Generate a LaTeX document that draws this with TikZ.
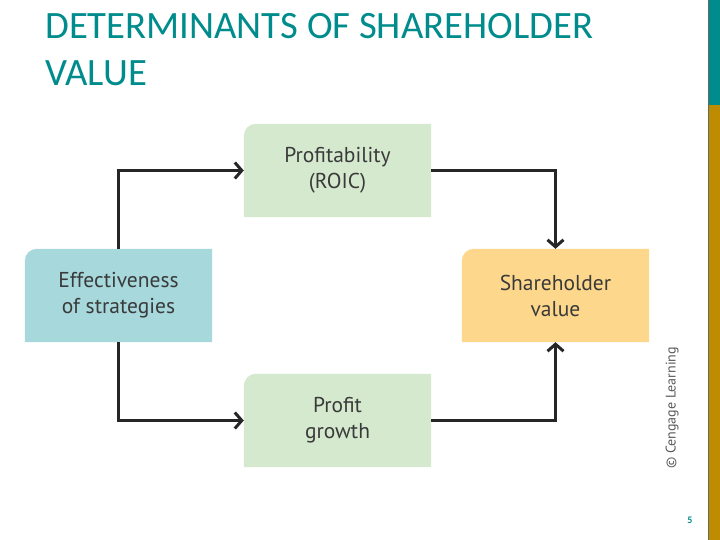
\documentclass[tikz,border=0pt]{standalone}
\usepackage{fontspec}
\setmainfont{Carlito}
\newfontfamily\boxfont{PT Sans}
\usetikzlibrary{positioning,arrows.meta,backgrounds}

\definecolor{slideteal}{RGB}{0,140,140}
\definecolor{slidegold}{RGB}{190,140,0}
\definecolor{cardgreen}{RGB}{213,233,207}
\definecolor{cardblue}{RGB}{166,216,220}
\definecolor{cardorange}{RGB}{253,215,140}
\definecolor{cardtext}{RGB}{58,58,58}

\tikzset{
  card/.style={minimum width=187pt,minimum height=93pt,inner sep=0pt,align=center,
    text=cardtext,font=\boxfont\fontsize{21.5}{26}\selectfont},
  link/.style={line width=3pt,draw=black!85,-{Straight Barb[length=7pt,width=16pt,line width=3pt]}},
  heading/.style={anchor=base west,inner sep=0pt,text=slideteal,font=\fontsize{38.7}{40}\selectfont}
}
% only the top left corner is rounded
\newcommand{\cardfill}[2]{%
  \fill[#2] (#1.south west) [rounded corners=12pt] -- (#1.north west) -- (#1.north)
    [sharp corners] -- (#1.north east) -- (#1.south east) -- cycle;}

\begin{document}
\begin{tikzpicture}[x=1pt,y=-1pt]
\useasboundingbox (0,0) rectangle (720,540);

% side bar
\fill[slideteal] (708,0) rectangle (720,105);
\fill[slidegold] (708,105) rectangle (720,540);
\draw[black!60,line width=0.8pt] (708,0) -- (708,540);

% Title
\node[heading] (title1) at (45,39) {DETERMINANTS OF SHAREHOLDER};
\node[heading] (title2) at (45,86) {VALUE};

% Cards
\node[card] (profit) at (337.5,170.5) {Profitability\\(ROIC)};
\node[card] (eff) at (118.5,295.5) {Effectiveness\\of strategies};
\node[card] (share) at (555.5,295.5) {Shareholder\\value};
\node[card] (growth) at (337.5,420.5) {Profit\\growth};

\begin{scope}[on background layer]
\cardfill{profit}{cardgreen}
\cardfill{eff}{cardblue}
\cardfill{share}{cardorange}
\cardfill{growth}{cardgreen}
\end{scope}

% Connectors
\draw[link] (eff.north) |- (profit.west);
\draw[link] (eff.south) |- (growth.west);
\draw[link] (profit.east) -| (share.north);
\draw[link] (growth.east) -| (share.south);

% Credit and page number
\node[rotate=90,text=black!65,font=\boxfont\fontsize{14}{16}\selectfont] (credit) at (672,408) {\textcopyright\ Cengage Learning};
\node[text=slideteal,font=\bfseries\fontsize{10}{12}\selectfont] (pagenum) at (690,520) {5};
\end{tikzpicture}
\end{document}
